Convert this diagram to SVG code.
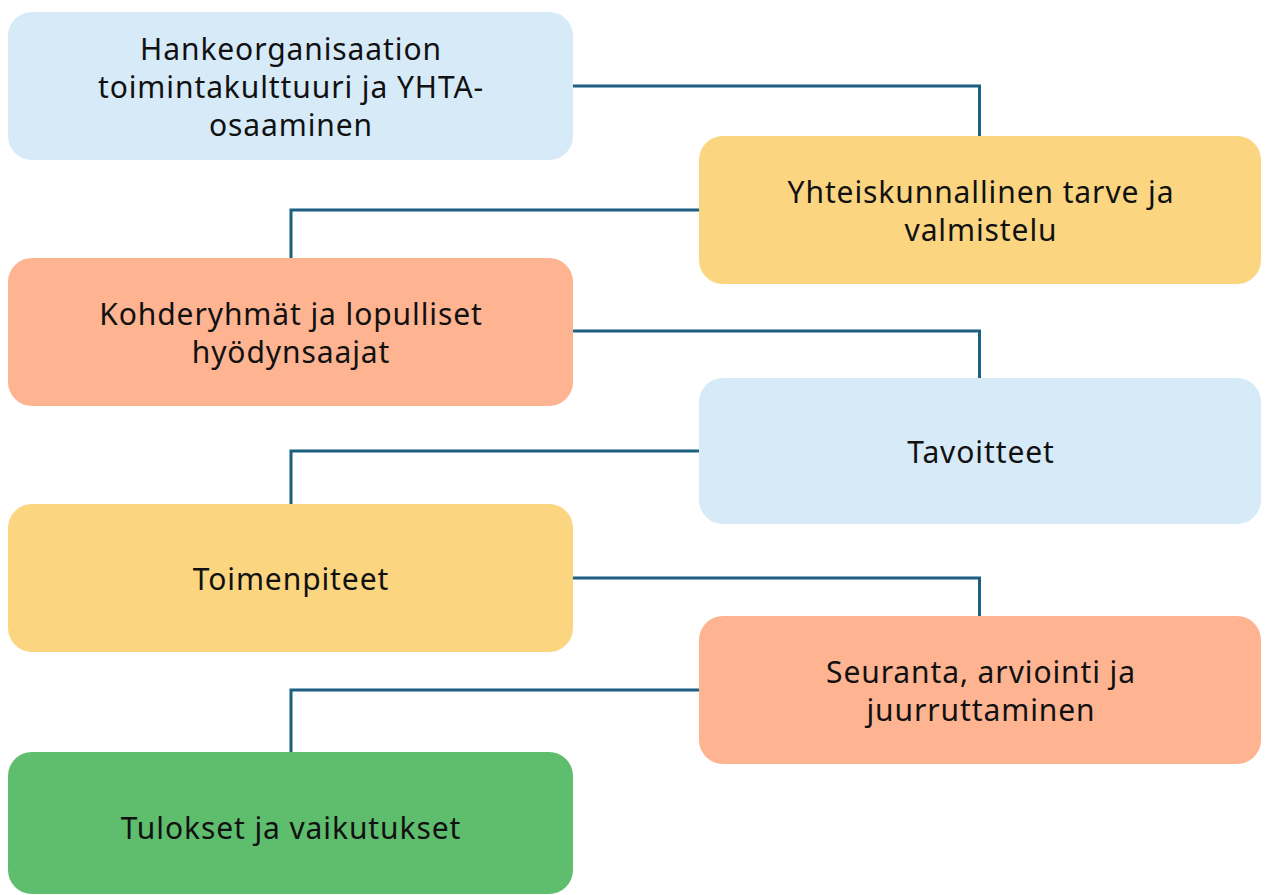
<svg xmlns="http://www.w3.org/2000/svg" width="1269" height="895" viewBox="0 0 1269 895">
<style>
.n rect{stroke:none}
.blue{fill:#d6eaf8}
.yellow{fill:#fcd581}
.salmon{fill:#feb391}
.green{fill:#5fbd6e}
text{font-family:"Noto Sans","Open Sans",sans-serif;font-size:30px;letter-spacing:0.9px;fill:#111;text-anchor:middle;dominant-baseline:central}
.c path{fill:none;stroke:#1b5f81;stroke-width:3}
</style>
<rect width="1269" height="895" fill="#fff"/>
<g class="c" id="connectors">
<path d="M573,86 H979.5 V136"/>
<path d="M699,210 H291 V258"/>
<path d="M573,331 H979.5 V378"/>
<path d="M699,451 H291 V504"/>
<path d="M573,578 H979.5 V616"/>
<path d="M699,690 H291 V752"/>
</g>
<g class="n" id="n1"><rect class="blue" x="8" y="12" width="565" height="148" rx="24"/>
<text x="291" y="48">Hankeorganisaation</text><text x="291" y="86">toimintakulttuuri ja YHTA-</text><text x="291" y="124">osaaminen</text></g>
<g class="n" id="n2"><rect class="yellow" x="699" y="136" width="562" height="148" rx="24"/>
<text x="981" y="191">Yhteiskunnallinen tarve ja</text><text x="981" y="229">valmistelu</text></g>
<g class="n" id="n3"><rect class="salmon" x="8" y="258" width="565" height="148" rx="24"/>
<text x="291" y="313">Kohderyhmät ja lopulliset</text><text x="291" y="351">hyödynsaajat</text></g>
<g class="n" id="n4"><rect class="blue" x="699" y="378" width="562" height="146" rx="24"/>
<text x="981" y="451">Tavoitteet</text></g>
<g class="n" id="n5"><rect class="yellow" x="8" y="504" width="565" height="148" rx="24"/>
<text x="291" y="578">Toimenpiteet</text></g>
<g class="n" id="n6"><rect class="salmon" x="699" y="616" width="562" height="148" rx="24"/>
<text x="981" y="671">Seuranta, arviointi ja</text><text x="981" y="709">juurruttaminen</text></g>
<g class="n" id="n7"><rect class="green" x="8" y="752" width="565" height="142" rx="24"/>
<text x="291" y="827">Tulokset ja vaikutukset</text></g>
</svg>
